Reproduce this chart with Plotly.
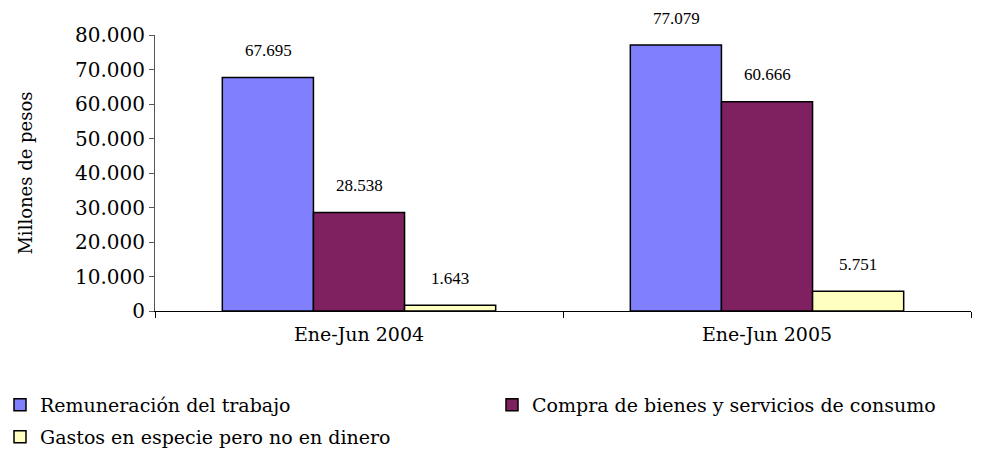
import plotly.graph_objects as go

categories = ["Ene-Jun 2004", "Ene-Jun 2005"]
remuneracion = [67695, 77079]
compra = [28538, 60666]
gastos = [1643, 5751]
series_names = [
    "Remuneración del trabajo",
    "Compra de bienes y servicios de consumo",
    "Gastos en especie pero no en dinero",
]
series_colors = ["#8080FF", "#7F2060", "#FFFFC0"]
y_ticks = [0, 10000, 20000, 30000, 40000, 50000, 60000, 70000, 80000]

serif = "DejaVu Serif"


def fmt(v):
    # thousands separator in Spanish style
    return f"{v:,}".replace(",", ".")


fig = go.Figure()
all_series = [remuneracion, compra, gastos]
legend_ids = ["legend", "legend2", "legend3"]
for name, vals, color, lg in zip(series_names, all_series, series_colors, legend_ids):
    fig.add_trace(go.Bar(
        x=categories,
        y=vals,
        name=name,
        legend=lg,
        showlegend=True,
        marker=dict(color=color, line=dict(color="black", width=1.5)),
    ))

# value labels sit well above the bars, as in the original
shifts = [-91, 0, 91]
for vals, dx in zip(all_series, shifts):
    for cat, v in zip(categories, vals):
        fig.add_annotation(
            x=cat, y=v, text=fmt(v), showarrow=False,
            xshift=dx, yshift=27, yanchor="middle",
            font=dict(family="Liberation Serif", size=17, color="black"),
        )

legend_style = dict(
    orientation="h",
    xref="container", yref="container",
    xanchor="left", yanchor="middle",
    font=dict(family=serif, size=19),
    bgcolor="rgba(0,0,0,0)",
)

fig.update_layout(
    width=990,
    height=452,
    margin=dict(l=155, r=19, t=35, b=141, autoexpand=False),
    paper_bgcolor="white",
    plot_bgcolor="white",
    showlegend=True,
    barmode="group",
    bargap=0.33,
    bargroupgap=0,
    separators=",.",
    font=dict(family=serif, color="black"),
    legend=dict(legend_style, x=0, y=(452 - 405) / 452),
    legend2=dict(legend_style, x=492 / 990, y=(452 - 405) / 452),
    legend3=dict(legend_style, x=0, y=(452 - 437) / 452),
)

fig.update_xaxes(
    showline=True, linecolor="black", linewidth=1,
    ticks="outside", tickson="boundaries", ticklen=6, tickcolor="black",
    tickfont=dict(family=serif, size=19),
    ticklabelstandoff=6,
    showgrid=False, automargin=False,
)
fig.update_yaxes(
    range=[0, 80000],
    tickvals=y_ticks,
    tickformat=",d",
    showline=True, linecolor="#555555", linewidth=1,
    ticks="outside", ticklen=5, tickcolor="#555555",
    tickfont=dict(family=serif, size=20),
    showgrid=False, zeroline=False, automargin=False,
    title=dict(text="Millones de pesos", font=dict(family=serif, size=18), standoff=37),
)

# drop the default page margin so the figure fills the window
fig.write_html(
    "out.html",
    config={"displayModeBar": False},
    post_script="document.body.style.margin='0';",
)
